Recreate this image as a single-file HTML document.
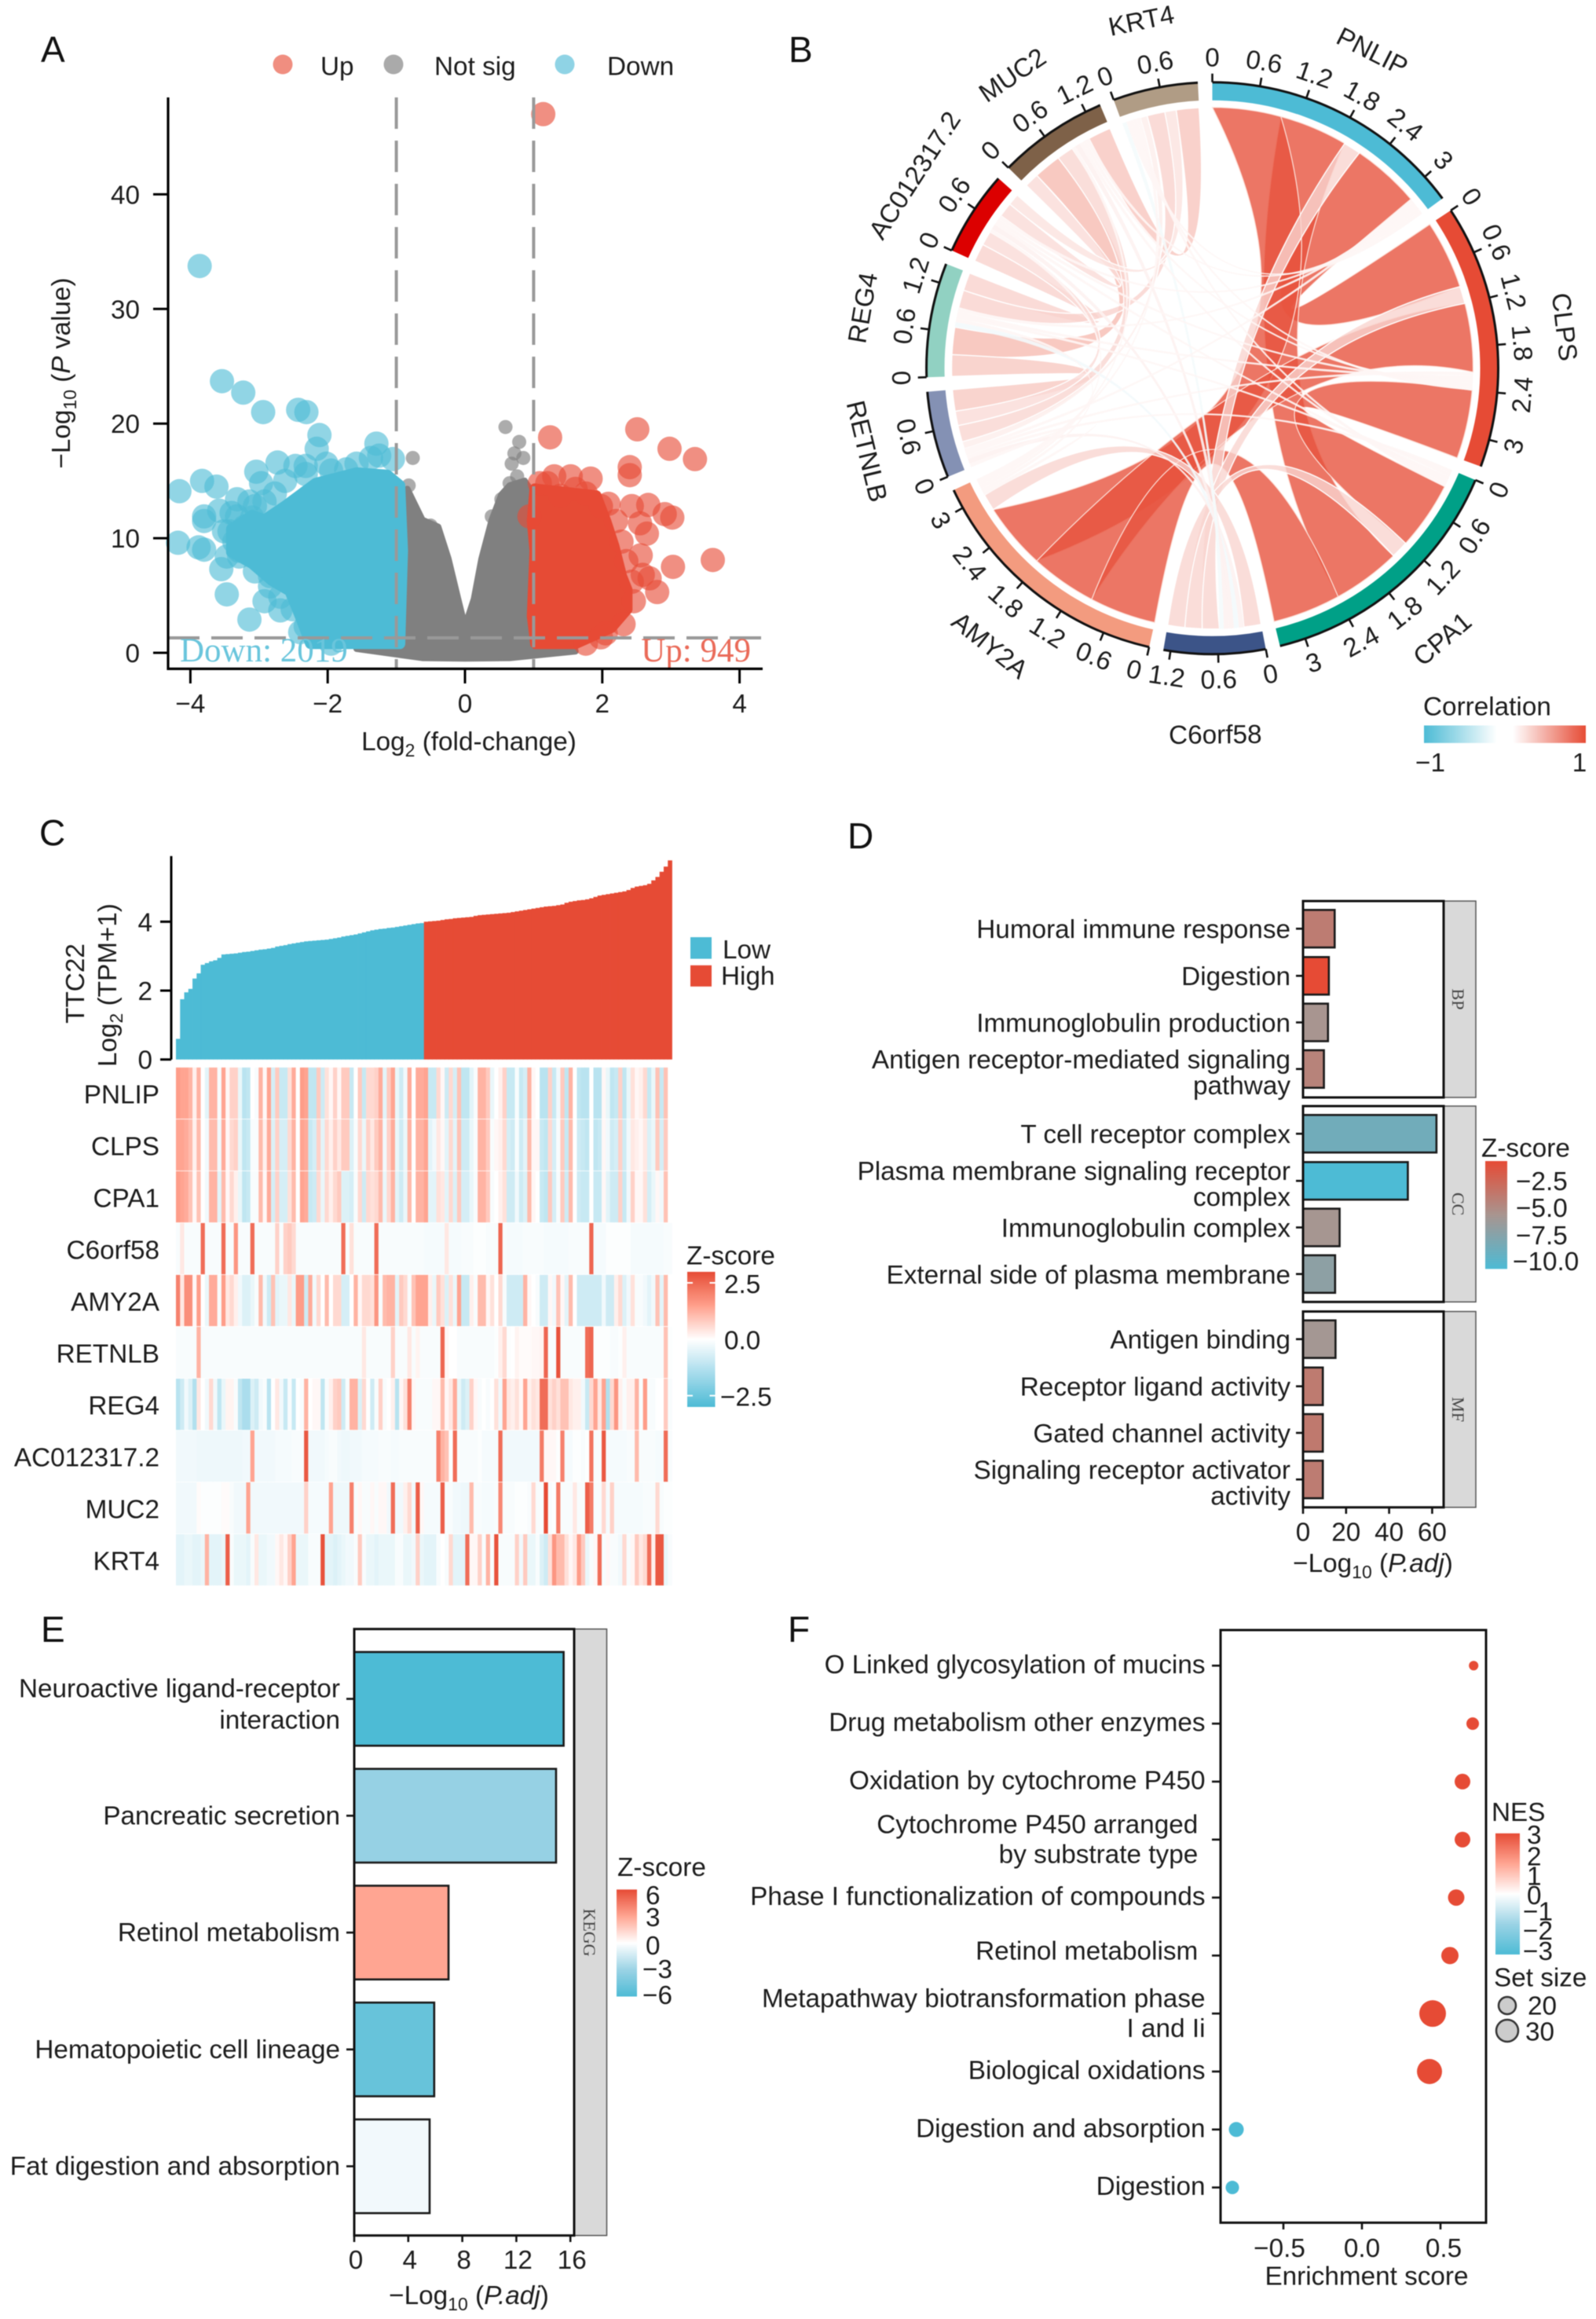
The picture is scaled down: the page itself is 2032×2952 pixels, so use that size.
<!DOCTYPE html>
<html lang="en">
<head>
<meta charset="utf-8">
<title>TTC22 multi-panel figure</title>
<style>
html,body{margin:0;padding:0;background:#fff;}
svg{display:block;filter:blur(.55px);}
text{font-family:"Liberation Sans",Arial,sans-serif;font-size:33.3px;fill:#1c1c1c;}
.letter{font-size:46px;fill:#111;}
.strip{font-family:"Liberation Serif",serif;font-size:22px;fill:#444;}
.small{font-size:23px;}
</style>
</head>
<body>
<svg id="figure" xmlns="http://www.w3.org/2000/svg" width="2032" height="2952" viewBox="0 0 2032 2952">
<defs>
<linearGradient id="gradC" x1="0" y1="0" x2="0" y2="1"><stop offset="0" stop-color="#E64B35"/><stop offset=".25" stop-color="#FFA08C"/><stop offset=".5" stop-color="#fff"/><stop offset=".75" stop-color="#A8DCEC"/><stop offset="1" stop-color="#4DBBD5"/></linearGradient>
<linearGradient id="gradD" x1="0" y1="0" x2="0" y2="1"><stop offset="0" stop-color="#E64B35"/><stop offset=".5" stop-color="#A89590"/><stop offset="1" stop-color="#4DBBD5"/></linearGradient>
<linearGradient id="gradE" x1="0" y1="0" x2="0" y2="1"><stop offset="0" stop-color="#E64B35"/><stop offset=".25" stop-color="#FFA592"/><stop offset=".5" stop-color="#fff"/><stop offset=".75" stop-color="#9BD3E5"/><stop offset="1" stop-color="#4DBBD5"/></linearGradient>
<linearGradient id="gradB" x1="0" y1="0" x2="1" y2="0"><stop offset="0" stop-color="#4DBBD5"/><stop offset=".45" stop-color="#fff"/><stop offset=".55" stop-color="#fff"/><stop offset="1" stop-color="#E64B35"/></linearGradient>
</defs>

<!-- panel letters -->
<text class="letter" x="52" y="79">A</text>
<text class="letter" x="1004" y="79">B</text>
<text class="letter" x="50" y="1076">C</text>
<text class="letter" x="1079" y="1080">D</text>
<text class="letter" x="52" y="2090">E</text>
<text class="letter" x="1003" y="2090">F</text>

<!-- A static -->
<g id="panelA"></g>
<g>
<circle cx="360" cy="82" r="12.5" fill="#F08E80"/>
<text x="408" y="95.7">Up</text>
<circle cx="501" cy="82" r="12.5" fill="#AAAAAA"/>
<text x="553" y="95.7">Not sig</text>
<circle cx="719" cy="82" r="12.5" fill="#8FD3E5"/>
<text x="773" y="95.7">Down</text>
</g>
<text x="597" y="955" text-anchor="middle">Log<tspan class="small" dy="8">2</tspan><tspan dy="-8"> (fold-change)</tspan></text>
<text transform="translate(89 475) rotate(-90)" text-anchor="middle">−Log<tspan class="small" dy="8">10</tspan><tspan dy="-8"> (</tspan><tspan font-style="italic">P</tspan><tspan> value)</tspan></text>

<!-- B static -->
<g id="panelB"></g>
<text x="1812" y="910.7">Correlation</text>
<rect x="1813" y="923.5" width="206" height="22.3" fill="url(#gradB)"/>
<text x="1821" y="982" text-anchor="middle">−1</text>
<text x="2011" y="982" text-anchor="middle">1</text>

<!-- C static -->
<g id="panelC"></g>
<text transform="translate(107 1252) rotate(-90)" text-anchor="middle">TTC22</text>
<text transform="translate(148 1254) rotate(-90)" text-anchor="middle">Log<tspan class="small" dy="8">2</tspan><tspan dy="-8"> (TPM+1)</tspan></text>
<rect x="879" y="1193" width="27" height="27.5" fill="#4DBBD5"/>
<text x="920" y="1219.8">Low</text>
<rect x="879" y="1228.8" width="27" height="27" fill="#E64B35"/>
<text x="918" y="1253.6">High</text>
<text x="874" y="1609.5">Z-score</text>
<rect x="875" y="1619" width="35.5" height="172" fill="url(#gradC)"/>
<path d="M875 1633h7M903.5 1633h7M875 1705h7M903.5 1705h7M875 1776.6h7M903.5 1776.6h7" stroke="#fff" stroke-width="2"/>
<text x="922" y="1645.9">2.5</text>
<text x="922" y="1717.3">0.0</text>
<text x="917" y="1789.4">−2.5</text>

<!-- D static -->
<g id="panelD"></g>
<text x="1748" y="2001" text-anchor="middle">−Log<tspan class="small" dy="8">10</tspan><tspan dy="-8"> (</tspan><tspan font-style="italic">P.adj</tspan><tspan>)</tspan></text>
<text x="1886" y="1472.4">Z-score</text>
<rect x="1891" y="1478" width="28" height="137.3" fill="url(#gradD)"/>
<text x="1930" y="1515">−2.5</text>
<text x="1930" y="1549">−5.0</text>
<text x="1930" y="1584">−7.5</text>
<text x="1926" y="1617">−10.0</text>

<!-- E static -->
<g id="panelE"></g>
<text x="597" y="2933" text-anchor="middle">−Log<tspan class="small" dy="8">10</tspan><tspan dy="-8"> (</tspan><tspan font-style="italic">P.adj</tspan><tspan>)</tspan></text>
<text x="786" y="2388">Z-score</text>
<rect x="785" y="2405.3" width="26" height="136.2" fill="url(#gradE)"/>
<text x="822" y="2424">6</text>
<text x="822" y="2452">3</text>
<text x="822" y="2488">0</text>
<text x="818" y="2518">−3</text>
<text x="818" y="2551">−6</text>

<!-- F static -->
<g id="panelF"></g>
<text x="1740" y="2908.5" text-anchor="middle">Enrichment score</text>
<text x="1899" y="2318">NES</text>
<rect x="1904" y="2333.8" width="31" height="154.2" fill="url(#gradE)"/>
<text x="1944" y="2347">3</text>
<text x="1944" y="2374.5">2</text>
<text x="1944" y="2399.5">1</text>
<text x="1944" y="2424">0</text>
<text x="1939" y="2444.3">−1</text>
<text x="1939" y="2469">−2</text>
<text x="1939" y="2495">−3</text>
<text x="1902" y="2528.7">Set size</text>
<circle cx="1919" cy="2553" r="11" fill="#ccc" stroke="#333" stroke-width="2.5"/>
<circle cx="1919" cy="2585" r="14" fill="#ccc" stroke="#333" stroke-width="2.5"/>
<text x="1945" y="2564.7">20</text>
<text x="1942" y="2597.3">30</text>
</svg>

<script>
/* ---------- Panel A data ---------- */
const volcanoXTicks = [-4, -2, 0, 2, 4];
const volcanoYTicks = [0, 10, 20, 30, 40];
const notSigCloudX = [-0.99,-0.84,-0.62,-0.39,-0.24,-0.1,0,0.13,0.24,0.39,0.53,0.65,0.87,0.98,1.61,0.65,0,-0.62,-1.58];
const notSigCloudY = [0.6,14.3,11.6,11,8.2,4.7,2.3,4.7,8.2,11.6,13.8,14.6,15,14,0.13,-0.45,-0.5,-0.45,0.35];
const downCloudX = [-3.4,-3.1,-2.92,-2.62,-2.17,-1.58,-1.13,-0.95,-0.91,-0.95,-2.25,-2.4,-2.55,-2.81,-3.1,-3.4];
const downCloudY = [10.8,12,11.6,12.8,14.8,15.7,15.5,14.6,8.9,0.8,0.8,3.2,5.4,6.3,7.8,8.8];
const upCloudX = [1.02,1.91,2.05,2.17,2.28,2.36,2.36,2.13,1.61,1.03,0.98,1.02,0.98];
const upCloudY = [14.3,13.7,11.5,9.3,6.7,5.5,3.8,2.2,0.8,0.8,3.2,8.9,11.5];
const notSigX = [0.59,-0.76,0.79,0.72,0.85,0.68,-0.82,0.76,0.65,0.53,-0.5,0.39];
const notSigY = [19.7,17,18.4,17.4,17,16.5,14.6,15.4,14.8,13.4,11.1,11.9];
const downX = [-3.865,-3.54,-3.23,-2.94,-2.43,-2.31,-2.12,-2.16,-1.29,-1.37,-2.73,-2.47,-2.32,-2.02,-1.73,-1.05,-3.04,-2.97,-3.83,-4.16,-3.62,-3.32,-3.8,-3.58,-3.8,-4.18,-3.88,-3.8,-3.55,-3.47,-3.14,-2.92,-2.69,-2.4,-3.06,-3.43,-3.29,-3.47,-2.84,
-3.32,-3.51,-3.36,-3.21,-3.06,-2.92,-2.77,-3.14,-2.62,-2.32,-1.95,-1.58,-1.25,-3.29,-3.06,-2.84,-2.69,-2.51,-2.32,-2.17,-1.95,-3.4,-3.15,-2.95,-3.1,-2.75];
const downY = [33.75,23.7,22.7,21,21.2,21,19,17.8,18.25,17,16.6,16.3,16.3,16.5,16,16.9,15.8,14.8,15,14.1,14.5,13.4,11.9,12.4,11.5,9.6,9.2,9,7.3,5.1,2.9,4.5,3.7,1.8,12.8,10.6,8.4,8.4,6.7,
11.9,10.6,9.7,11,10.2,13.2,13.9,13.2,15,15.6,15.9,16.5,17.2,8.9,7.1,5.8,4.9,3.8,2.3,1.4,0.8,12.2,9.5,9,11.8,7.5];
const upX = [1.14,1.24,2.51,2.98,3.35,2.4,2.4,1.3,1.83,2.43,2.67,2.91,3.02,2.55,2.65,2.56,3.61,3.03,2.59,2.69,2.8,2.09,1.98,1.2,1.61,
1.09,1.39,1.76,1.98,2.2,2.28,2.35,2.43,2.46,2.31,2.05,1.76,0.94,1.54];
const upY = [47,18.8,19.5,17.8,16.9,16.2,15.5,15.4,15.2,12.8,12.9,12.1,11.8,11.3,10.4,8.5,8.1,7.5,6.8,6.5,5.3,13,1.35,14.8,14.3,
14.8,13.7,13.9,12.8,11.5,9.7,8,6.2,4.5,2.5,1.7,0.8,11.9,15.4];

/* ---------- Panel B data ---------- */
const sectorNames = ["PNLIP","CLPS","CPA1","C6orf58","AMY2A","RETNLB","REG4","AC012317.2","MUC2","KRT4"];
const sectorValues = [3.35,3.35,3.33,1.29,3.25,1.1,1.45,1.08,1.4,1.08];
const sectorColors = ["#4DBBD5","#E64B35","#00A087","#3C5488","#F39B7F","#8491B4","#91D1C2","#DC0000","#7E6148","#B09C85"];
const linkFrom = [0,0,0,1,1,2, 3,3,3,3, 0,0,0,0,0, 1,1,1,1,1, 2,2,2,2,2, 4,4,4,4,4, 3,3,3,3,3, 5,5,5,5,6,6,6,7,7,8];
const linkTo   = [1,2,4,2,4,4, 0,1,2,4, 5,6,7,8,9, 5,6,7,8,9, 5,6,7,8,9, 5,6,7,8,9, 5,6,7,8,9, 6,7,8,9,7,8,9,8,9,9];
const linkCorr = [.95,.95,.95,.95,.95,.95, .24,.24,.24,.24, .05,.05,.05,.05,.05, .05,.05,.05,.05,.05, .05,.05,.05,.05,.05, .05,.05,.05,.05,.05, .07,-.07,.07,.07,-.06, .3,.2,.23,.1,.25,.38,.25,.2,.16,.32];
const slotOrder0 = [4,2,3,1,5,6,7,8,9];
const slotOrder1 = [0,3,4,5,6,7,8,9,2];
const slotOrder2 = [5,6,7,8,9,1,3,0,4];
const slotOrder3 = [4,5,6,7,8,9,0,1,2];
const slotOrder4 = [2,1,0,3,5,6,7,8,9];
const slotOrder5 = [4,3,2,1,0,9,8,7,6];
const slotOrder6 = [5,8,3,4,2,1,0,9,7];
const slotOrder7 = [6,5,4,3,2,1,0,8,9];
const slotOrder8 = [7,6,5,4,3,2,1,0,9];
const slotOrder9 = [3,0,1,2,4,5,6,7,8];

/* ---------- Panel C data ---------- */
const ttc22Ticks = [0, 2, 4];
const ttc22Low = [.6,1.75,1.95,2.05,2.35,2.5,2.75,2.8,2.85,2.88,2.95,3.05,3.06,3.07,3.08,3.1,3.12,3.13,3.15,3.17,3.19,3.2,3.22,3.24,3.28,3.3,3.32,3.35,3.37,3.39,3.41,3.43,3.44,3.45,3.46,3.47,3.48,3.5,3.52,3.54,3.57,3.59,3.61,3.63,3.66,3.69,3.72,3.75,3.77,3.79,3.8,3.82,3.83,3.85,3.87,3.89,3.91,3.93,3.95,3.96];
const ttc22High = [4,4.01,4.02,4.03,4.05,4.07,4.08,4.1,4.11,4.12,4.13,4.14,4.17,4.19,4.2,4.21,4.22,4.23,4.24,4.25,4.26,4.28,4.3,4.32,4.34,4.36,4.38,4.4,4.42,4.44,4.45,4.46,4.48,4.5,4.55,4.58,4.6,4.62,4.63,4.65,4.68,4.72,4.76,4.78,4.8,4.82,4.84,4.86,4.88,4.92,4.98,5.02,5.04,5.06,5.1,5.2,5.3,5.45,5.6,5.78];
const heatGenes = ["PNLIP","CLPS","CPA1","C6orf58","AMY2A","RETNLB","REG4","AC012317.2","MUC2","KRT4"];
const heatPNLIP = [1.3,1.2,1.2,1,.2,1,0,-.4,1,1,-.1,1.2,.1,.6,.6,-.3,-1,-.9,0,-.1,1,.1,1.2,-.6,.7,-.8,-.8,.4,1.1,0,1.3,1.2,-.9,-.9,.7,-.7,.4,.1,.6,.1,.7,.7,-.8,0,.7,-.8,.5,.5,.6,1.1,-.4,.7,1.2,-.3,-.7,-.2,1.1,0,1.1,1.1,
1.2,-.8,-.8,.5,.1,-.7,.5,-.6,.8,-.9,-.9,-.4,-.1,1,1,.7,-.3,0,.2,.6,-.8,-.8,-.1,-.8,-.6,1,.1,0,-1,-1,.6,-.8,-.2,.7,-.9,1,0,-.9,-1,-1,0,-1,-1,.1,-.3,-.9,-.8,.6,-.9,-.3,.4,.1,.2,.5,-.8,-.3,.8,-.8,.8,0];
const heatCLPS = [1.2,1.2,1.1,.9,.2,.9,0,-.2,.9,.9,-.2,1.1,.1,.5,.6,-.3,-.9,-.8,-.1,-.1,.9,.2,1.1,-.5,.6,-.6,-.6,.5,1,0,1.2,1.1,-.8,-.6,.6,-.4,.5,.2,.6,.3,.7,.7,-.5,-.1,.5,-.3,.6,.3,.7,1,-.2,.6,1.1,-.3,-.7,-.3,1,0,1,1,
1.2,-.4,-.2,.3,.1,-.4,.5,-.4,.8,-.7,-.7,-.3,-.1,1,1,.7,-.1,.1,.2,.5,-.6,-.7,-.1,-.7,-.4,.9,.1,.1,-.8,-.9,.5,-.6,-.1,.7,-.8,.9,0,-.7,-.8,-.9,0,-.9,-.8,.1,-.2,-.7,-.6,.6,-.7,-.2,.3,.2,.1,.3,-.5,-.3,.7,-.6,.7,0];
const heatCPA1 = [1.3,1.2,1.1,.8,.1,.8,0,-.2,1,1,-.4,.9,.1,.5,.2,-.3,-.9,-.8,-.1,-.1,.9,.1,1.1,-.6,.6,-.6,-.6,.4,.9,0,1.2,1.1,-.8,-.7,.5,-.3,.5,.2,.5,.7,-.5,-.5,-.6,-.1,.5,-.7,.5,.4,.5,.9,-.3,.5,1,-.4,-.7,-.3,.9,0,1,1,
1.2,-.4,-.4,.4,.3,-.4,.5,-.5,.7,-.6,-.6,-.3,-.1,1,1,.7,-.1,0,.2,.4,-.7,-.7,-.2,-.7,-.5,.9,.1,0,-.8,-.9,.7,-.6,-.1,.7,-.7,.9,0,-.7,-.8,-.8,0,-.8,-.8,.1,-.4,-.7,-.7,.6,-.8,-.2,.6,.1,.1,.4,-.6,-.3,.1,-.2,.8,0];
const heatC6orf58 = [-.1,.3,-.1,-.1,-.1,-.1,2,-.1,-.1,-.1,-.1,2,-.1,-.1,1.4,-.1,-.1,-.1,2,-.1,-.1,-.1,-.1,-.1,.6,-.1,.6,.7,.5,-.1,-.1,-.1,-.1,-.1,-.1,-.1,-.1,-.1,-.1,-.1,2,-.1,.4,-.1,-.1,-.1,-.1,-.1,2,-.1,-.1,-.1,-.1,-.1,-.1,-.1,-.1,-.1,-.1,-.1,
-.15,-.15,-.15,-.15,-.15,.3,-.15,-.15,-.15,-.1,-.1,-.1,-.05,-.05,-.05,-.1,-.1,-.1,2.1,-.1,-.15,-.15,-.15,-.15,-.1,-.1,-.1,-.1,-.1,-.15,-.15,-.15,-.15,-.15,-.15,-.1,-.1,-.1,-.1,-.1,2.1,-.15,-.15,-.15,-.05,-.05,-.05,-.05,-.05,-.05,-.15,-.15,-.15,-.15,-.15,-.15,-.15,-.15,-.1,-.1];
const heatAMY2A = [1.7,.3,1.5,1.5,.1,1.3,0,-.3,1.1,1.1,-.1,1.3,.3,.5,.2,-.2,-.5,-.5,-.3,-.1,.9,-.2,-.7,.8,-.4,-.3,-.3,.3,-.3,1.3,1.3,-.7,1.1,-.2,.5,0,.9,0,.5,.5,-.6,-.6,0,1,.1,.5,.5,.4,1.4,-.1,.9,1,1,-.4,.7,.5,-.1,.8,1.2,1.2,
1.2,.2,-.3,.7,.4,-.5,.4,-.3,1.2,-.8,-.8,.2,-.1,.9,.9,.1,.4,0,.5,-.1,-.7,-.7,-.7,-.7,1,.1,0,-.1,-.7,-.7,.1,-.2,.8,.1,-.4,.9,0,-.7,-.7,-.7,-.7,-.7,-.7,-.2,-.7,-.7,.2,.5,-.5,-.2,.4,-.1,-.1,-.2,-.4,-.2,.8,-.4,.9,0];
const heatRETNLB = [-.1,-.1,-.1,-.1,-.1,1,-.1,-.1,-.1,-.1,-.1,-.1,-.1,-.1,-.1,-.1,-.1,-.1,-.1,-.1,-.1,-.1,-.1,-.1,-.1,-.1,-.1,-.1,-.1,-.1,-.1,-.1,-.1,-.1,-.1,-.1,-.1,-.1,-.1,-.1,-.1,-.1,-.1,-.1,-.1,.3,-.1,-.1,-.1,-.1,-.1,-.1,.6,-.1,-.1,-.1,.3,-.1,.15,-.1,
-.1,-.1,-.1,-.1,2.1,.1,0,0,-.1,-.1,-.1,-.1,-.1,-.1,-.1,-.1,-.1,-.05,.2,.5,-.05,0,.15,.05,.05,.05,.1,.1,.15,2.1,-.1,-.1,2.4,-.1,-.1,-.1,-.1,-.1,-.1,2,2.1,-.05,-.05,-.05,-.05,-.1,-.1,-.05,.2,-.1,-.1,-.1,-.1,-.1,-.1,-.1,-.1,-.1,.8,-.05];
const heatREG4 = [-1,-.7,-.2,-.5,-1.1,.3,0,-.2,.5,-.2,-.9,-.3,.15,.15,-.1,-.9,-1.2,-1.2,-.5,-.7,-.2,-.1,-1,0,.3,-.2,-.8,-.1,-.8,0,-.1,1,0,.1,.1,-.9,-.1,.2,.6,.7,-.7,-.1,1,1,-.5,.5,0,-.7,-.1,.6,-.1,0,.2,-1,.1,.4,1.7,.1,-.1,-.1,
-.1,-.1,.1,.1,.9,.1,.3,1.1,-.3,-.7,-.5,.6,.1,-.1,0,-.1,0,.4,-.2,1.2,.3,.2,.4,.1,1.2,.2,.4,.3,2,2,.4,.6,.4,.8,.8,.3,.2,.2,-.2,-.8,.5,1.2,.3,1.2,-1.1,.5,1.4,.2,-.1,.2,.2,1,-.1,1.3,-.1,-.1,0,0,.7,-.1];
const heatAC012317 = [-.2,-.2,-.2,-.2,-.2,-.25,-.25,-.25,-.25,-.25,-.25,-.25,-.25,-.25,-.25,-.25,-.2,-.2,1.2,-.2,-.2,-.2,-.2,-.2,-.15,-.15,-.15,-.15,-.1,-.1,-.1,2.3,-.2,-.2,-.2,-.2,-.15,-.1,-.1,-.2,-.25,-.25,-.2,-.2,-.2,-.15,-.15,-.15,-.15,-.1,-.1,-.1,-.15,-.15,-.1,-.1,-.1,-.1,-.1,-.1,
-.1,-.1,-.1,1.7,1,.8,-.05,2,-.1,-.1,-.1,-.1,-.1,-.05,-.15,-.15,-.15,-.15,2,-.2,-.2,-.2,-.2,-.2,-.2,-.2,-.2,-.2,1.8,.1,.1,.1,-.05,1.7,-.15,-.15,-.05,-.05,-.1,-.05,1.9,-.1,-.1,2.3,-.15,-.15,-.15,-.15,-.15,-.1,-.1,.9,-.1,-.1,-.1,-.1,-.15,-.15,2,-.1];
const heatMUC2 = [-.2,-.2,-.2,-.2,-.2,.05,-.05,-.05,-.05,-.05,-.05,.05,.05,-.1,-.2,-.2,-.2,1.2,-.2,-.2,-.2,-.2,-.2,-.2,-.2,-.2,-.2,-.2,-.2,-.2,-.2,.6,-.15,-.15,-.15,-.15,-.15,1.2,-.25,-.25,-.25,-.25,1.7,-.1,.1,-.1,-.1,.1,-.1,.1,.1,-.2,2,-.2,-.2,.2,.5,-.2,2.2,.1,
-.15,-.15,-.15,-.15,2.2,-.1,-.1,-.2,-.2,-.25,-.25,.9,-.1,-.1,-.15,-.15,-.15,-.1,1.6,-.1,-.1,-.1,-.05,-.05,-.05,-.1,.5,-.1,-.1,2.5,-.1,-.05,1.8,-.1,-.1,-.1,.3,-.1,-.1,2.2,1.8,-.1,-.1,.5,-.15,.6,-.15,-.15,-.15,-.15,-.15,-.15,-.15,-.1,-.1,-.1,.5,-.1,-.05,-.05];
const heatKRT4 = [-.4,-.4,-.3,-.3,-.4,-.4,-.3,1,-.4,-.4,-.4,-.3,2.2,-.1,-.3,-.3,-.3,-.4,-.1,.3,-.3,-.3,-.2,-.2,.1,.3,.1,.6,1.2,-.3,-.3,-.3,-.1,-.1,-.1,2.4,-.4,-.4,-.5,-.4,-.3,-.2,-.2,-.1,.7,-.1,-.3,-.3,-.4,-.3,-.3,-.3,-.3,-.1,-.1,-.3,-.3,-.2,.6,-.3,
-.4,-.4,-.4,-.1,0,-.1,.5,-.4,-.4,-.4,2,.1,.1,.6,-.1,1,-.1,2.4,-.1,-.1,-.1,-.1,.6,-.2,.7,-.3,-.3,-.1,-.5,-.7,.4,1.4,.9,.9,.4,.1,.3,1.3,.7,-.3,-.1,.1,2,-.1,.1,-.1,-.1,-.2,.5,-.1,.1,.7,.3,.5,2,.2,2.3,2.3,-.3,-.1];

/* ---------- Panel D data ---------- */
const goXTicks = [0, 20, 40, 60];
const goTerms = [["Humoral immune response"],["Digestion"],["Immunoglobulin production"],["Antigen receptor-mediated signaling","pathway"],["T cell receptor complex"],["Plasma membrane signaling receptor","complex"],["Immunoglobulin complex"],["External side of plasma membrane"],["Antigen binding"],["Receptor ligand activity"],["Gated channel activity"],["Signaling receptor activator","activity"]];
const goValues = [14.7,12,11.6,9.7,62,48.7,17,14.9,15.1,9.2,9.2,9.2];
const goZ = [-4.4,-1.2,-6,-4.85,-8.9,-10.8,-6.1,-7.4,-6.2,-4.3,-4.2,-4.4];
const goFacets = ["BP","CC","MF"];

/* ---------- Panel E data ---------- */
const keggXTicks = [0, 4, 8, 12, 16];
const keggTerms = [["Neuroactive ligand-receptor","interaction"],["Pancreatic secretion"],["Retinol metabolism"],["Hematopoietic cell lineage"],["Fat digestion and absorption"]];
const keggValues = [15.5,14.94,6.98,5.92,5.58];
const keggZ = [-6.1,-3.2,3,-5,-0.4];

/* ---------- Panel F data ---------- */
const gseaXTicks = [-0.5, 0, 0.5];
const gseaXLabels = ["−0.5","0.0","0.5"];
const gseaTerms = [["O Linked glycosylation of mucins"],["Drug metabolism other enzymes"],["Oxidation by cytochrome P450"],["Cytochrome P450 arranged\u00a0","by substrate type\u00a0"],["Phase I functionalization of compounds"],["Retinol metabolism\u00a0"],["Metapathway biotransformation phase","I and Ii"],["Biological oxidations"],["Digestion and absorption"],["Digestion"]];
const gseaScore = [.711,.705,.64,.64,.6,.56,.45,.43,-.8,-.825];
const gseaSize = [5,8.8,13.7,13.7,15,16.6,39.6,35,12.4,10];
const gseaNES = [2.3,2.4,2.5,2.5,2.4,2.3,2.6,2.6,-2.4,-2.4];

/* ---------- helpers ---------- */
const NS = "http://www.w3.org/2000/svg";
function el(parent, tag, name, attrs) {
  const e = document.createElementNS(NS, tag);
  
  
  for (const k in attrs) e.setAttribute(k, attrs[k]);
  parent.appendChild(e);
  return e;
}
function txt(parent, name, x, y, s, attrs) {
  const e = el(parent, 'text', name, Object.assign({x: x, y: y}, attrs || {}));
  e.textContent = s;
  return e;
}
function hex2(c){return [parseInt(c.slice(1,3),16),parseInt(c.slice(3,5),16),parseInt(c.slice(5,7),16)];}
function rampColor(vals, cols, v){
  if (v <= vals[0]) return cols[0];
  for (let i = 1; i < vals.length; i++) {
    if (v <= vals[i]) {
      const t = (v - vals[i-1]) / (vals[i] - vals[i-1]);
      const a = hex2(cols[i-1]), b = hex2(cols[i]);
      return 'rgb(' + a.map((c, j) => Math.round(c + (b[j] - c) * t)).join(',') + ')';
    }
  }
  return cols[cols.length-1];
}
function minus(v){return String(v).replace('-', '−');}
const $ = id => document.getElementById(id);

/* ---------- Panel A ---------- */
(function(){
  const g = $('panelA');
  const ax = v => 592 + 87.4 * v;
  const ay = v => 831 - 14.59 * v;
  function cloud(xs, ys, name, color, sw) {
    const pts = xs.map((x, i) => ax(x).toFixed(1) + ',' + ay(ys[i]).toFixed(1)).join(' ');
    el(g, 'polygon', name, {points: pts, fill: color, stroke: color, 'stroke-width': sw, 'stroke-linejoin': 'round'});
  }
  cloud(notSigCloudX, notSigCloudY, 'not-sig-cloud', '#808080', 8);
  notSigX.forEach((x, i) => { el(g, 'circle', 'not-sig-point', {cx: ax(x), cy: ay(notSigY[i]), r: 9, fill: '#808080', 'fill-opacity': .65}); });
  cloud(downCloudX, downCloudY, 'down-cloud', '#4DBBD5', 14);
  downX.forEach((x, i) => { el(g, 'circle', 'down-point', {cx: ax(x), cy: ay(downY[i]), r: 15.5, fill: '#4DBBD5', 'fill-opacity': .62}); });
  cloud(upCloudX, upCloudY, 'up-cloud', '#E64B35', 14);
  upX.forEach((x, i) => { el(g, 'circle', 'up-point', {cx: ax(x), cy: ay(upY[i]), r: 15.5, fill: '#E64B35', 'fill-opacity': .62}); });
  const dash = {stroke: '#999', 'stroke-width': 4, 'stroke-dasharray': '40 15', fill: 'none'};
  el(g, 'line', 'threshold-line-left', Object.assign({x1: ax(-1), x2: ax(-1), y1: 124, y2: 851}, dash));
  el(g, 'line', 'threshold-line-right', Object.assign({x1: ax(1), x2: ax(1), y1: 124, y2: 851}, dash));
  el(g, 'line', 'threshold-line-p', Object.assign({x1: 214, x2: 971, y1: ay(1.3), y2: ay(1.3)}, dash));
  txt(g, 'down-count', 229, 842, 'Down: 2019', {style: 'font-family:"Liberation Serif",serif;font-size:43px;fill:#69C5DC'});
  txt(g, 'up-count', 956, 842, 'Up: 949', {'text-anchor': 'end', style: 'font-family:"Liberation Serif",serif;font-size:43px;fill:#EA6A58'});
  el(g, 'path', 'volcano-axes', {d: 'M214 124V851.4H971', fill: 'none', stroke: '#000', 'stroke-width': 3.2});
  volcanoXTicks.forEach(v => {
    el(g, 'line', 'x-tick', {x1: ax(v), x2: ax(v), y1: 851, y2: 870, stroke: '#000', 'stroke-width': 3});
    txt(g, 'x-tick-label', ax(v), 907, minus(v), {'text-anchor': 'middle'});
  });
  volcanoYTicks.forEach(v => {
    el(g, 'line', 'y-tick', {x1: 195, x2: 214, y1: ay(v), y2: ay(v), stroke: '#000', 'stroke-width': 3});
    txt(g, 'y-tick-label', 178, ay(v) + 12, String(v), {'text-anchor': 'end'});
  });
})();

/* ---------- Panel B ---------- */
(function(){
  const g = $('panelB');
  const cx = 1543.5, cy = 468.7, degPerUnit = 16;
  const gap = (360 - sectorValues.reduce((a, b) => a + b, 0) * degPerUnit) / sectorValues.length;
  const starts = [];
  let acc = 0;
  sectorValues.forEach(v => { starts.push(acc); acc += v * degPerUnit + gap; });
  const pt = (deg, r) => {
    const a = deg * Math.PI / 180;
    return [cx + r * Math.sin(a), cy - r * Math.cos(a)];
  };
  const P = p => p[0].toFixed(1) + ' ' + p[1].toFixed(1);
  const arc = (a0, a1, r0, r1) => 'M' + P(pt(a0, r1)) + 'A' + r1 + ' ' + r1 + ' 0 0 1 ' + P(pt(a1, r1)) + 'L' + P(pt(a1, r0)) + 'A' + r0 + ' ' + r0 + ' 0 0 0 ' + P(pt(a0, r0)) + 'Z';
  const orders = [slotOrder0,slotOrder1,slotOrder2,slotOrder3,slotOrder4,slotOrder5,slotOrder6,slotOrder7,slotOrder8,slotOrder9];
  const width = (a, b) => {
    for (let i = 0; i < linkFrom.length; i++) {
      if ((linkFrom[i] === a && linkTo[i] === b) || (linkFrom[i] === b && linkTo[i] === a)) return Math.abs(linkCorr[i]);
    }
    return 0;
  };
  const slots = {};
  orders.forEach((ord, s) => {
    const sum = ord.reduce((t, o) => t + width(s, o), 0);
    const scale = sectorValues[s] * degPerUnit / sum;
    let a = starts[s];
    ord.forEach(o => {
      const w = width(s, o) * scale;
      slots[s + '-' + o] = [a, a + w];
      a += w;
    });
  });
  const R = 332;
  const ctrl = (t0, t1, c) => {
    const diff = ((t1 - t0 + 540) % 360) - 180;
    const d = Math.abs(diff), mid = t0 + diff / 2, m = Math.abs(c);
    const k = m * (.25 + (Math.min(120, Math.max(27, d)) - 27) / 93 * .07);
    const p = pt(mid, -k * R);
    if (m >= .5 && d > 90) { p[0] += .36 * R; p[1] += .1 * R; }
    return p;
  };
  const idx = linkFrom.map((_, i) => i).sort((p, q) => Math.abs(linkCorr[q]) - Math.abs(linkCorr[p]));
  idx.forEach(i => {
    const a = slots[linkFrom[i] + '-' + linkTo[i]], b = slots[linkTo[i] + '-' + linkFrom[i]];
    const c = linkCorr[i], m = Math.abs(c);
    const col = c >= 0
      ? rampColor([0, 1], ['#FFFFFF', '#E64B35'], m)
      : rampColor([0, 1], ['#FFFFFF', '#4DBBD5'], m);
    const d = 'M' + P(pt(a[0], R)) + 'A' + R + ' ' + R + ' 0 0 1 ' + P(pt(a[1], R)) +
      'Q' + P(ctrl(a[1], b[0], c)) + ' ' + P(pt(b[0], R)) +
      'A' + R + ' ' + R + ' 0 0 1 ' + P(pt(b[1], R)) +
      'Q' + P(ctrl(b[1], a[0], c)) + ' ' + P(pt(a[0], R)) + 'Z';
    const attrs = {d: d, fill: col, 'fill-opacity': m < .1 ? .9 : .8};
    if (m >= .5) { attrs.stroke = '#FDE3DC'; attrs['stroke-width'] = 1.2; }
    else if (m >= .1) { attrs.stroke = '#FFFFFF'; attrs['stroke-width'] = 1.4; }
    el(g, 'path', 'chord-link', attrs);
  });
  sectorNames.forEach((n, s) => {
    const a0 = starts[s], a1 = a0 + sectorValues[s] * degPerUnit;
    el(g, 'path', 'sector-band', {d: arc(a0, a1, 341, 363), fill: sectorColors[s]});
    el(g, 'path', 'sector-axis', {d: 'M' + P(pt(a0, 364)) + 'A364 364 0 0 1 ' + P(pt(a1, 364)), fill: 'none', stroke: '#111', 'stroke-width': 3});
    for (let t = 0; t * 0.6 <= sectorValues[s] + 1e-6; t++) {
      const v = t * 0.6, ang = a0 + v * degPerUnit;
      const p0 = pt(ang, 364), p1 = pt(ang, 375);
      el(g, 'line', 'sector-tick', {x1: p0[0], y1: p0[1], x2: p1[0], y2: p1[1], stroke: '#111', 'stroke-width': 2.6});
      const labAng = ang + (s === 4 && t === 0 ? 1.8 : 0);
      const lp = pt(labAng, 396);
      const rot = (labAng > 90 && labAng < 270) ? labAng - 180 : labAng;
      const label = t === 0 ? '0' : (t % 5 === 0 ? '3' : v.toFixed(1));
      txt(g, 'sector-tick-label', 0, 0, label, {transform: 'translate(' + lp[0].toFixed(1) + ' ' + lp[1].toFixed(1) + ') rotate(' + rot.toFixed(1) + ')', 'text-anchor': 'middle', 'dy': '.35em'});
    }
    const mid = (a0 + a1) / 2;
    const lp = pt(mid, n === 'C6orf58' ? 466 : 452);
    const rot = (mid > 90 && mid < 270) ? mid - 180 : mid;
    txt(g, 'sector-name', 0, 0, n, {transform: 'translate(' + lp[0].toFixed(1) + ' ' + lp[1].toFixed(1) + ') rotate(' + rot.toFixed(1) + ')', 'text-anchor': 'middle', 'dy': '.35em'});
  });
})();

/* ---------- Panel C ---------- */
(function(){
  const g = $('panelC');
  const y = v => 1348.7 - 43.85 * v;
  const n = ttc22Low.length + ttc22High.length;
  const x0 = 224, x1 = 855.5, w = (x1 - x0) / n;
  const cx = i => x0 + w * i;
  ttc22Low.concat(ttc22High).forEach((v, i) => {
    el(g, 'rect', 'ttc22-bar', {x: cx(i), y: y(v), width: w + .4, height: y(0) - y(v), fill: i < ttc22Low.length ? '#4DBBD5' : '#E64B35'});
  });
  el(g, 'line', 'ttc22-y-axis', {x1: 218, x2: 218, y1: 1089.7, y2: 1348.7, stroke: '#000', 'stroke-width': 3});
  ttc22Ticks.forEach(v => {
    el(g, 'line', 'ttc22-tick', {x1: 204, x2: 218, y1: y(v), y2: y(v), stroke: '#000', 'stroke-width': 3});
    txt(g, 'ttc22-tick-label', 194, y(v) + 12, String(v), {'text-anchor': 'end'});
  });
  const rows = [heatPNLIP,heatCLPS,heatCPA1,heatC6orf58,heatAMY2A,heatRETNLB,heatREG4,heatAC012317,heatMUC2,heatKRT4];
  const top = 1358.9, rh = 66.01;
  const stopV = [-2.5,-1.25,0,1.25,2.5], stopC = ['#4DBBD5','#A8DCEC','#FFFFFF','#FFA08C','#E64B35'];
  rows.forEach((row, r) => {
    const ry = top + r * rh;
    row.forEach((v, i) => {
      el(g, 'rect', 'heatmap-cell', {x: cx(i).toFixed(2), y: ry.toFixed(1), width: (w + .4).toFixed(2), height: rh - .8, fill: rampColor(stopV, stopC, v)});
    });
    txt(g, 'heatmap-gene-label', 203, ry + 45.5, heatGenes[r], {'text-anchor': 'end'});
  });
})();

/* ---------- Panel D ---------- */
(function(){
  const g = $('panelD');
  const x = v => 1659 + 2.74 * v;
  const panelTop = [1147, 1408, 1669.5], panelBottom = [1397, 1657.3, 1918.8];
  const rowOffset = [35.2, 95.2, 154.5, 213.8];
  const h = 47.8;
  goFacets.forEach((f, p) => {
    el(g, 'rect', 'facet-strip', {x: 1838, y: panelTop[p], width: 41, height: panelBottom[p] - panelTop[p], fill: '#D9D9D9', stroke: '#555', 'stroke-width': 1.5});
    const my = (panelTop[p] + panelBottom[p]) / 2;
    txt(g, 'facet-label', 0, 0, f, {transform: 'translate(1849 ' + my + ') rotate(90)', 'text-anchor': 'middle', class: 'strip'});
    for (let r = 0; r < 4; r++) {
      const i = p * 4 + r, ty = panelTop[p] + rowOffset[r];
      el(g, 'rect', 'go-bar', {x: x(0), y: ty - h / 2, width: x(goValues[i]) - x(0), height: h, fill: rampColor([-10.8,-6,-1.2], ['#4DBBD5','#A89590','#E64B35'], goZ[i]), stroke: '#1a1a1a', 'stroke-width': 2.6});
      el(g, 'line', 'go-tick', {x1: 1650, x2: 1659, y1: ty, y2: ty, stroke: '#111', 'stroke-width': 2.6});
      const lines = goTerms[i];
      if (lines.length === 1) txt(g, 'go-term-label', 1643, ty + 12, lines[0], {'text-anchor': 'end'});
      else lines.forEach((l, j) => { txt(g, 'go-term-label', 1643, ty - 1 + j * 33, l, {'text-anchor': 'end'}); });
    }
    el(g, 'rect', 'facet-frame', {x: 1659, y: panelTop[p], width: 179, height: panelBottom[p] - panelTop[p], fill: 'none', stroke: '#111', 'stroke-width': 3});
  });
  goXTicks.forEach(v => {
    el(g, 'line', 'go-x-tick', {x1: x(v), x2: x(v), y1: 1918.8, y2: 1927, stroke: '#111', 'stroke-width': 2.6});
    txt(g, 'go-x-tick-label', x(v), 1961.6, String(v), {'text-anchor': 'middle'});
  });
})();

/* ---------- Panel E ---------- */
(function(){
  const g = $('panelE');
  const x = v => 451 + 17.2 * v;
  const rowY = i => 2162.6 + 148.75 * i;
  const h = 119.3;
  el(g, 'rect', 'kegg-strip', {x: 731, y: 2073.7, width: 41.5, height: 772, fill: '#D9D9D9', stroke: '#555', 'stroke-width': 1.5});
  txt(g, 'kegg-strip-label', 0, 0, 'KEGG', {transform: 'translate(743 2460) rotate(90)', 'text-anchor': 'middle', class: 'strip'});
  keggValues.forEach((v, i) => {
    const ty = rowY(i);
    el(g, 'rect', 'kegg-bar', {x: x(0), y: ty - h / 2, width: x(v) - x(0), height: h, fill: rampColor([-6,-3,0,3,6], ['#4DBBD5','#9BD3E5','#FFFFFF','#FFA592','#E64B35'], keggZ[i]), stroke: '#1a1a1a', 'stroke-width': 2.6});
    el(g, 'line', 'kegg-tick', {x1: 441, x2: 451, y1: ty, y2: ty, stroke: '#111', 'stroke-width': 2.6});
    const lines = keggTerms[i];
    if (lines.length === 1) txt(g, 'kegg-term-label', 433, ty + 11, lines[0], {'text-anchor': 'end'});
    else lines.forEach((l, j) => { txt(g, 'kegg-term-label', 433, ty - 2 + j * 40, l, {'text-anchor': 'end'}); });
  });
  el(g, 'rect', 'kegg-frame', {x: 451, y: 2073.7, width: 280, height: 772, fill: 'none', stroke: '#111', 'stroke-width': 3});
  keggXTicks.forEach(v => {
    el(g, 'line', 'kegg-x-tick', {x1: x(v), x2: x(v), y1: 2845.7, y2: 2854, stroke: '#111', 'stroke-width': 2.6});
    txt(g, 'kegg-x-tick-label', x(v) + 2, 2888, String(v), {'text-anchor': 'middle'});
  });
})();

/* ---------- Panel F ---------- */
(function(){
  const g = $('panelF');
  const x = v => 1734 + 200 * v;
  const y = i => 2120.3 + 73.81 * i;
  el(g, 'rect', 'gsea-frame', {x: 1554, y: 2075, width: 338, height: 754.4, fill: '#fff', stroke: '#111', 'stroke-width': 3});
  gseaScore.forEach((v, i) => {
    el(g, 'circle', 'gsea-dot', {cx: x(v), cy: y(i), r: 2.7 * Math.sqrt(gseaSize[i]), fill: rampColor([-2,0,2], ['#4DBBD5','#FFFFFF','#E64B35'], gseaNES[i])});
    el(g, 'line', 'gsea-y-tick', {x1: 1543, x2: 1554, y1: y(i), y2: y(i), stroke: '#111', 'stroke-width': 2.6});
    const lines = gseaTerms[i];
    if (lines.length === 1) txt(g, 'gsea-term-label', 1534.5, y(i) + (lines[0].endsWith('\u00a0') ? 5 : 9.5), lines[0], {'text-anchor': 'end'});
    else lines.forEach((l, j) => { txt(g, 'gsea-term-label', 1534.5, y(i) - 8 + j * 38, l, {'text-anchor': 'end'}); });
  });
  gseaXTicks.forEach((v, i) => {
    el(g, 'line', 'gsea-x-tick', {x1: x(v), x2: x(v), y1: 2829.4, y2: 2838, stroke: '#111', 'stroke-width': 2.6});
    txt(g, 'gsea-x-tick-label', x(v) + (i === 0 ? -5 : i === 2 ? 4 : 0), 2873, gseaXLabels[i], {'text-anchor': 'middle'});
  });
})();
</script>
</body>
</html>
